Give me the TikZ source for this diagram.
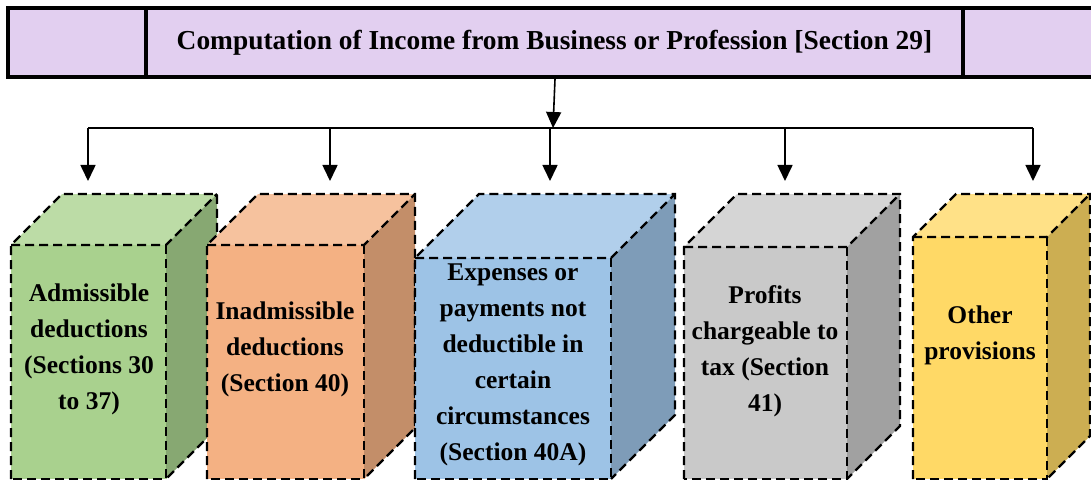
\documentclass[tikz,border=0pt]{standalone}
\usepackage{fontspec}
\setmainfont{Liberation Serif}
\usetikzlibrary{arrows.meta}
\definecolor{hdrfill}{HTML}{E2CFF0}
\definecolor{gF}{HTML}{A9D18E}\definecolor{gT}{HTML}{BCDCA6}\definecolor{gS}{HTML}{87A872}
\definecolor{oF}{HTML}{F4B183}\definecolor{oT}{HTML}{F6C29E}\definecolor{oS}{HTML}{C38E69}
\definecolor{bF}{HTML}{9DC3E6}\definecolor{bT}{HTML}{B1CFEB}\definecolor{bS}{HTML}{7E9CB8}
\definecolor{yF}{HTML}{C9C9C9}\definecolor{yT}{HTML}{D5D5D5}\definecolor{yS}{HTML}{A1A1A1}
\definecolor{wF}{HTML}{FFD966}\definecolor{wT}{HTML}{FFE187}\definecolor{wS}{HTML}{CCAE52}
\tikzset{
  hdrcell/.style={draw=black,line width=4pt,fill=hdrfill,inner sep=0pt,minimum height=69pt},
  conn/.style={line width=1.6pt,draw=black},
  arr/.style={conn,-{Triangle[width=15pt,length=16pt]}},
  edge/.style={draw=black,line width=2.2pt,dash pattern=on 9pt off 5pt,line join=miter},
  boxtext/.style={align=center,font=\bfseries\fontsize{25.5}{36}\selectfont,inner sep=0pt}
}
% #1 L, #2 T, #3 R, #4 B (front face), #5 depth, #6 colour prefix
\newcommand\mycube[6]{%
  \fill[#6T] (#1,#2) -- ({#1+#5},{#2-#5}) -- ({#3+#5},{#2-#5}) -- (#3,#2) -- cycle;
  \fill[#6S] (#3,#2) -- ({#3+#5},{#2-#5}) -- ({#3+#5},{#4-#5}) -- (#3,#4) -- cycle;
  \fill[#6F] (#1,#2) rectangle (#3,#4);
  \draw[edge] (#1,#4) -- (#1,#2) -- ({#1+#5},{#2-#5}) -- ({#3+#5},{#2-#5}) -- ({#3+#5},{#4-#5}) -- (#3,#4);
  \draw[edge] (#1,#2) -- (#3,#2) -- ({#3+#5},{#2-#5});
  \draw[edge] (#3,#2) -- (#3,#4) -- (#1,#4);
}
\begin{document}
\begin{tikzpicture}[x=1pt,y=-1pt]
\useasboundingbox (0,0) rectangle (1091,481);
\clip (0,0) rectangle (1091,481);
\fill[white] (0,0) rectangle (1091,481);
% header
\node[hdrcell,minimum width=138pt] (hl) at (77,42.5) {};
\node[hdrcell,minimum width=140pt] (hr) at (1033,42.5) {};
\node[hdrcell,minimum width=817pt,font=\bfseries\fontsize{27.4}{30}\selectfont] (hdr) at (554.5,42.5) {Computation of Income from Business or Profession [Section 29]};
% connectors
\coordinate (j) at (553,128);
\coordinate (b1) at (88,128);
\coordinate (b2) at (330,128);
\coordinate (b3) at (550,128);
\coordinate (b4) at (785,128);
\coordinate (b5) at (1033,128);
\coordinate (t1) at (88,181);
\coordinate (t2) at (330,181);
\coordinate (t3) at (550,181);
\coordinate (t4) at (785,181);
\coordinate (t5) at (1033,181);
\draw[arr] (555,79) -- (j);
\draw[conn] (b1) -- (b5);
\foreach \i in {1,...,5} \draw[arr] (b\i) -- (t\i);
% cubes
\mycube{11}{245}{166}{479}{51}{g}
\mycube{207}{245}{364}{479}{51}{o}
\mycube{415}{258}{611}{479}{64}{b}
\mycube{684}{247}{847}{479}{53}{y}
\mycube{913}{237}{1047}{479}{43}{w}
% texts
\node[boxtext] (x1) at (89,349) {Admissible\\deductions\\(Sections 30\\to 37)};
\node[boxtext] (x2) at (285,349) {Inadmissible\\deductions\\(Section 40)};
\node[boxtext] (x3) at (513,365) {Expenses or\\payments not\\deductible in\\certain\\circumstances\\(Section 40A)};
\node[boxtext] (x4) at (765,351) {Profits\\chargeable to\\tax (Section\\41)};
\node[boxtext] (x5) at (980,335) {Other\\provisions};
\end{tikzpicture}
\end{document}
